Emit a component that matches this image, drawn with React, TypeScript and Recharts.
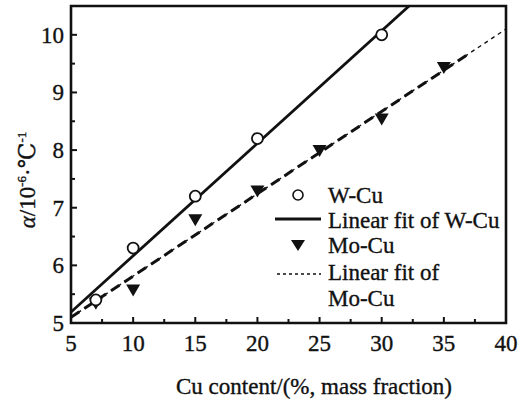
import React from "react";
import { ScatterChart, Scatter, XAxis, YAxis, ReferenceArea } from "recharts";

// measured points
const wcuX = [7, 10, 15, 20, 30];
const wcuY = [5.4, 6.3, 7.2, 8.2, 10.0];
const mocuX = [7, 10, 15, 20, 25, 30, 35];
const mocuY = [5.35, 5.58, 6.8, 7.3, 8.0, 8.55, 9.44];

// linear fit end points
const wcuFitX = [5, 32.2];
const wcuFitY = [5.19, 10.5];
const mocuFitX = [5, 40];
const mocuFitY = [5.1, 10.1];
const mocuFitBoldX = [5, 37];
const mocuFitBoldY = [5.1, 9.67];

const xTicks = [5, 7.5, 10, 12.5, 15, 17.5, 20, 22.5, 25, 27.5, 30, 32.5, 35, 37.5, 40];
const yTicks = [5, 5.5, 6, 6.5, 7, 7.5, 8, 8.5, 9, 9.5, 10];

const toPoints = (xs: number[], ys: number[]) => xs.map((x, i) => ({ x, y: ys[i] }));

const INK = "#111";
const textStyle: React.CSSProperties = {
  fontFamily: '"Liberation Serif", "Times New Roman", Times, "DejaVu Serif", serif',
  fontSize: 23,
  fill: INK,
  stroke: INK,
  strokeWidth: 0.35,
};

const XTick = (props: any) => {
  const { x, y, payload } = props;
  const major = payload.value % 5 === 0;
  return (
    <g>
      <line x1={x} x2={x} y1={y} y2={y - (major ? 6 : 4)} stroke={INK} strokeWidth={2} />
      {major && (
        <text x={x} y={y + 28} textAnchor="middle" style={textStyle}>
          {payload.value}
        </text>
      )}
    </g>
  );
};

const YTick = (props: any) => {
  const { x, y, payload } = props;
  const major = Number.isInteger(payload.value);
  return (
    <g>
      <line x1={x} x2={x + (major ? 6 : 4)} y1={y} y2={y} stroke={INK} strokeWidth={2} />
      {major && (
        <text x={x - 7} y={y + 8} textAnchor="end" style={textStyle}>
          {payload.value}
        </text>
      )}
    </g>
  );
};

const Circle = (props: any) => (
  <circle cx={props.cx} cy={props.cy} r={5.5} fill="#fff" stroke={INK} strokeWidth={1.8} />
);

const Triangle = (props: any) => {
  const { cx, cy } = props;
  return <path d={`M${cx - 7},${cy - 5} L${cx + 7},${cy - 5} L${cx},${cy + 7} Z`} fill={INK} />;
};

const NoMark = () => <g />;

const Legend = () => (
  <g>
    <circle cx={298} cy={195} r={5} fill="#fff" stroke={INK} strokeWidth={1.6} />
    <text x={328} y={203} style={textStyle}>W-Cu</text>
    <line x1={275} x2={321} y1={219} y2={219} stroke={INK} strokeWidth={3} />
    <text x={328} y={228} style={textStyle}>Linear fit of W-Cu</text>
    <path d="M291,240 L305,240 L298,251 Z" fill={INK} />
    <text x={328} y={253} style={textStyle}>Mo-Cu</text>
    <line x1={277} x2={321} y1={274} y2={274} stroke={INK} strokeWidth={1.4} strokeDasharray="3 3" />
    <text x={328} y={280} style={textStyle}>Linear fit of</text>
    <text x={328} y={306} style={textStyle}>Mo-Cu</text>
  </g>
);

const AxisTitles = () => (
  <g>
    <text x={314} y={394} textAnchor="middle" style={textStyle}>Cu content/(%, mass fraction)</text>
    <text transform="translate(35,180) rotate(-90)" textAnchor="middle" style={textStyle}>
      <tspan fontStyle="italic">α</tspan>
      <tspan>/10</tspan>
      <tspan fontSize={13} dy={-9}>-6</tspan>
      <tspan dy={9}>·℃</tspan>
      <tspan fontSize={13} dy={-9}>-1</tspan>
    </text>
  </g>
);

export default function App() {
  return (
    <div style={{ position: "absolute", left: 0, top: 0, width: 526, height: 403, background: "#fff" }}>
      <ScatterChart width={526} height={403} margin={{ top: 6, right: 20, bottom: 0, left: 0 }}>
        <XAxis
          type="number"
          dataKey="x"
          domain={[5, 40]}
          ticks={xTicks}
          allowDataOverflow
          axisLine={false}
          tickLine={false}
          tickSize={0}
          tickMargin={0}
          height={80}
          tick={<XTick />}
          interval={0}
        />
        <YAxis
          type="number"
          dataKey="y"
          domain={[5, 10.5]}
          ticks={yTicks}
          allowDataOverflow
          axisLine={false}
          tickLine={false}
          tickSize={0}
          tickMargin={0}
          width={71}
          tick={<YTick />}
          interval={0}
        />
        <Scatter
          data={toPoints(mocuFitX, mocuFitY)}
          line={{ stroke: INK, strokeWidth: 1.4, strokeDasharray: "4 4" }}
          shape={NoMark}
          isAnimationActive={false}
        />
        <Scatter
          data={toPoints(mocuFitBoldX, mocuFitBoldY)}
          line={{ stroke: INK, strokeWidth: 3, strokeDasharray: "10 6" }}
          shape={NoMark}
          isAnimationActive={false}
        />
        <Scatter
          data={toPoints(wcuFitX, wcuFitY)}
          line={{ stroke: INK, strokeWidth: 2.8 }}
          shape={NoMark}
          isAnimationActive={false}
        />
        <Scatter data={toPoints(mocuX, mocuY)} shape={Triangle} isAnimationActive={false} />
        <Scatter data={toPoints(wcuX, wcuY)} shape={Circle} isAnimationActive={false} />
        <ReferenceArea x1={5} x2={40} y1={5} y2={10.5} fill="none" stroke={INK} strokeWidth={2.6} ifOverflow="visible" />
      </ScatterChart>
      <svg width={526} height={403} style={{ position: "absolute", left: 0, top: 0, pointerEvents: "none" }}>
        <Legend />
        <AxisTitles />
      </svg>
    </div>
  );
}
